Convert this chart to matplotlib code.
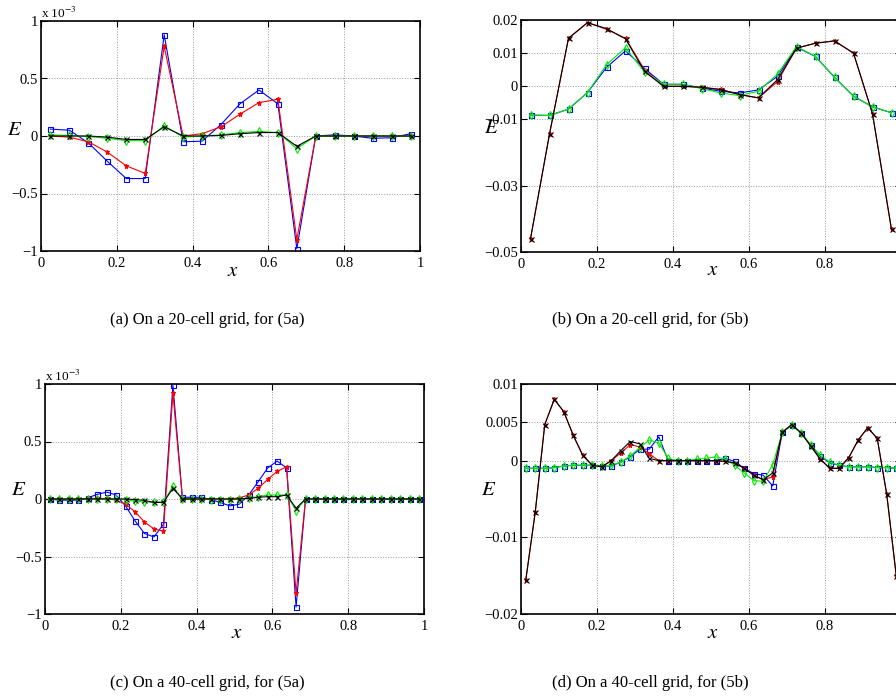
import numpy as np
import matplotlib
matplotlib.use("Agg")
import matplotlib.pyplot as plt

plt.rcParams["font.family"] = ["Liberation Serif", "DejaVu Serif"]
plt.rcParams["mathtext.fontset"] = "stix"

# grids: cell centres
x20 = (np.arange(20) + 0.5) / 20
x40 = (np.arange(40) + 0.5) / 40

# (a) 20 cells, (5a), values in units of 1e-3
a_blue = [0.06, 0.05, -0.06, -0.22, -0.37, -0.37, 0.88, -0.05, -0.045, 0.10,
          0.28, 0.40, 0.28, -0.98, 0.0, 0.01, 0.0, -0.02, -0.015, 0.02]
a_red = [0.0, -0.01, -0.05, -0.14, -0.26, -0.325, 0.78, 0.0, 0.02, 0.08,
         0.19, 0.29, 0.32, -0.90, 0.0, 0.0, 0.0, 0.0, 0.0, 0.0]
a_green = [0.01, 0.005, -0.005, -0.02, -0.04, -0.04, 0.09, -0.01, 0.0, 0.01,
           0.03, 0.04, 0.03, -0.11, 0.0, 0.0, 0.0, 0.0, 0.0, 0.0]
a_black = [0.0, 0.0, 0.0, -0.01, -0.03, -0.03, 0.08, 0.0, 0.0, 0.005,
           0.02, 0.03, 0.03, -0.09, 0.0, 0.0, 0.0, 0.0, 0.0, 0.0]

# (b) 20 cells, (5b)
b_blue = [-0.0087, -0.0088, -0.0069, -0.0019, 0.0057, 0.0107, 0.0054, 0.0006, 0.0006, -0.0005,
          -0.0015, -0.0020, -0.0011, 0.0030, 0.0118, 0.0090, 0.0027, -0.0030, -0.0062, -0.0080]
b_red = [-0.0460, -0.0144, 0.0145, 0.0192, 0.0172, 0.0145, 0.0050, 0.0, 0.0, -0.0003,
         -0.0009, -0.0025, -0.0035, 0.0014, 0.0115, 0.0130, 0.0137, 0.0100, -0.0083, -0.0432]
b_green = [-0.0087, -0.0088, -0.0069, -0.0019, 0.0065, 0.0116, 0.0043, 0.0006, 0.0006, -0.0007,
           -0.0020, -0.0028, -0.0015, 0.0037, 0.0120, 0.0090, 0.0027, -0.0030, -0.0062, -0.0080]
b_black = [-0.0460, -0.0144, 0.0145, 0.0192, 0.0174, 0.0143, 0.0045, 0.0, 0.0, -0.0003,
           -0.0010, -0.0025, -0.0035, 0.0020, 0.0115, 0.0130, 0.0137, 0.0100, -0.0083, -0.0432]

# (c) 40 cells, (5a), units of 1e-3
c_blue = [0.0, -0.01, -0.01, -0.01, 0.01, 0.04, 0.06, 0.035, -0.06, -0.19,
          -0.30, -0.33, -0.22, 0.99, 0.015, 0.015, 0.015, -0.005, -0.03, -0.06,
          -0.045, 0.035, 0.15, 0.27, 0.33, 0.27, -0.94, 0.0, 0.0, 0.0,
          0.0, 0.0, 0.0, 0.0, 0.0, 0.0, 0.0, 0.0, 0.0, 0.0]
c_red = [0.0, 0.0, 0.0, 0.0, 0.005, 0.005, 0.005, -0.01, -0.045, -0.11,
         -0.20, -0.26, -0.28, 0.92, 0.0, 0.0, 0.0, 0.0, 0.0, 0.0,
         0.01, 0.035, 0.093, 0.17, 0.24, 0.28, -0.82, 0.0, 0.0, 0.0,
         0.0, 0.0, 0.0, 0.0, 0.0, 0.0, 0.0, 0.0, 0.0, 0.0]
c_green = [0.0, 0.0, 0.0, 0.0, 0.0, 0.0, 0.0, 0.0, -0.005, -0.02,
           -0.025, -0.03, -0.025, 0.11, 0.0, 0.0, 0.0, -0.005, -0.005, -0.005,
           0.0, 0.01, 0.02, 0.035, 0.035, 0.035, -0.10, 0.0, 0.0, 0.0,
           0.0, 0.0, 0.0, 0.0, 0.0, 0.0, 0.0, 0.0, 0.0, 0.0]
c_black = [0.0, 0.0, 0.0, 0.0, 0.0, 0.0, 0.0, 0.0, 0.0, -0.005,
           -0.012, -0.03, -0.03, 0.093, 0.0, 0.0, 0.0, 0.0, 0.0, 0.0,
           0.0, 0.005, 0.015, 0.02, 0.02, 0.035, -0.08, 0.0, 0.0, 0.0,
           0.0, 0.0, 0.0, 0.0, 0.0, 0.0, 0.0, 0.0, 0.0, 0.0]

# (d) 40 cells, (5b)
d_blue = [-0.0010, -0.0010, -0.0010, -0.0009, -0.0007, -0.0006, -0.0006, -0.0006, -0.0007, -0.0007,
          -0.0002, 0.0005, 0.0015, 0.0015, 0.0031, 0.0, 0.0, 0.0, 0.0, 0.0,
          0.0, 0.0003, -0.0001, -0.0010, -0.0017, -0.0019, -0.0033, 0.0037, 0.0047, 0.0036,
          0.0020, 0.0006, -0.0003, -0.0006, -0.0008, -0.0008, -0.0008, -0.0009, -0.0009, -0.0010]
d_red = [-0.0156, -0.0067, 0.0047, 0.0080, 0.0064, 0.0033, 0.0007, -0.0006, -0.0008, 0.0,
         0.0010, 0.0021, 0.0018, 0.0009, 0.0, 0.0, 0.0, 0.0, 0.0, 0.0,
         0.0, -0.0001, -0.0003, -0.0010, -0.0019, -0.0025, -0.0021, 0.0037, 0.0047, 0.0036,
         0.0019, 0.0002, -0.0010, -0.0010, 0.0004, 0.0027, 0.0043, 0.0029, -0.0044, -0.0150]
d_green = [-0.0010, -0.0010, -0.0010, -0.0009, -0.0007, -0.0006, -0.0006, -0.0006, -0.0007, -0.0006,
           -0.0002, 0.0006, 0.0017, 0.0027, 0.0023, 0.0003, 0.0, 0.0, 0.0002, 0.0003,
           0.0005, 0.0002, -0.0006, -0.0016, -0.0026, -0.0027, -0.0005, 0.0037, 0.0046, 0.0036,
           0.0021, 0.0007, -0.0002, -0.0006, -0.0008, -0.0008, -0.0008, -0.0009, -0.0009, -0.0010]
d_black = [-0.0156, -0.0067, 0.0047, 0.0080, 0.0064, 0.0033, 0.0007, -0.0006, -0.0008, 0.0,
           0.0013, 0.0025, 0.0022, 0.0003, 0.0, 0.0, 0.0, 0.0, 0.0, 0.0,
           0.0, -0.0001, -0.0003, -0.0010, -0.0019, -0.0025, -0.0016, 0.0037, 0.0047, 0.0036,
           0.0019, 0.0002, -0.0010, -0.0010, 0.0004, 0.0027, 0.0043, 0.0029, -0.0044, -0.0150]

x_ticks = [0, 0.2, 0.4, 0.6, 0.8, 1]
x_ticklabels = ["0", "0.2", "0.4", "0.6", "0.8", "1"]
# right-hand panels run past the page edge, so their "1" is not seen
x_ticklabels_cut = ["0", "0.2", "0.4", "0.6", "0.8", ""]
a_yticks = [-1, -0.5, 0, 0.5, 1]
a_yticklabels = ["\u22121", "\u22120.5", "0", "0.5", "1"]
b_yticks = [-0.05, -0.03, -0.01, 0, 0.01, 0.02]
b_yticklabels = ["\u22120.05", "\u22120.03", "\u22120.01", "0", "0.01", "0.02"]
d_yticks = [-0.02, -0.01, 0, 0.005, 0.01]
d_yticklabels = ["\u22120.02", "\u22120.01", "0", "0.005", "0.01"]

captions = ["(a) On a 20-cell grid, for (5a)", "(b) On a 20-cell grid, for (5b)",
            "(c) On a 40-cell grid, for (5a)", "(d) On a 40-cell grid, for (5b)"]


def draw_panel(ax, x, blue, red, green, black, ylim, yticks, yticklabels, xlabels):
    kw = dict(lw=0.8, ms=3.6, mew=0.8)
    ax.plot(x, blue, "-s", color="#0000ff", mfc="none", **kw)
    ax.plot(x, red, "-*", color="#ff0000", **kw)
    ax.plot(x, green, "-d", color="#00ee00", mfc="none", **kw)
    ax.plot(x, black, "-x", color="black", **kw)
    ax.set_xlim(0, 1)
    ax.set_ylim(*ylim)
    ax.set_xticks(x_ticks)
    ax.set_xticklabels(xlabels)
    ax.set_yticks(yticks)
    ax.set_yticklabels(yticklabels)
    ax.tick_params(direction="in", top=True, right=True, length=4,
                   labelsize=10.5)
    ax.tick_params(axis="y", pad=2)
    ax.tick_params(axis="x", pad=4)
    ax.grid(True, ls=":", color="#999999", lw=0.7)
    for sp in ax.spines.values():
        sp.set_linewidth(1.2)


def set_labels(ax, ex, ey, xx, xy):
    ax.set_ylabel("$E$", rotation=0, fontsize=15, va="center", ha="center")
    ax.yaxis.set_label_coords(ex, ey)
    ax.set_xlabel("$x$", fontsize=15, va="center")
    ax.xaxis.set_label_coords(xx, xy)


fig = plt.figure(figsize=(8.96, 6.98), dpi=100)
W, H = 896.0, 698.0


def add_ax(l, r, t, b):
    return fig.add_axes([l / W, 1 - b / H, (r - l) / W, (b - t) / H])


ax_a = add_ax(41, 420, 21, 251)
draw_panel(ax_a, x20, a_blue, a_red, a_green, a_black, (-1, 1),
           a_yticks, a_yticklabels, x_ticklabels)
set_labels(ax_a, -0.069, 0.526, 0.507, -0.091)
ax_a.text(0.0, 1.015, "x 10$^{-3}$", transform=ax_a.transAxes, fontsize=9.5)

ax_b = add_ax(521, 901, 20, 252)
draw_panel(ax_b, x20, b_blue, b_red, b_green, b_black, (-0.05, 0.02),
           b_yticks, b_yticklabels, x_ticklabels_cut)
set_labels(ax_b, -0.076, 0.534, 0.505, -0.078)

ax_c = add_ax(45, 424, 384, 614)
draw_panel(ax_c, x40, c_blue, c_red, c_green, c_black, (-1, 1),
           a_yticks, a_yticklabels, x_ticklabels)
set_labels(ax_c, -0.069, 0.539, 0.506, -0.083)
ax_c.text(0.0, 1.015, "x 10$^{-3}$", transform=ax_c.transAxes, fontsize=9.5)

ax_d = add_ax(521, 901, 384, 614)
draw_panel(ax_d, x40, d_blue, d_red, d_green, d_black, (-0.02, 0.01),
           d_yticks, d_yticklabels, x_ticklabels_cut)
set_labels(ax_d, -0.084, 0.539, 0.505, -0.083)

# sub-figure captions
for txt, (cx, cy) in zip(captions, [(207, 320), (650, 320), (207, 683), (650, 683)]):
    fig.text(cx / W, 1 - cy / H, txt, ha="center", va="center", fontsize=12)

fig.savefig("out.png", dpi=100)
